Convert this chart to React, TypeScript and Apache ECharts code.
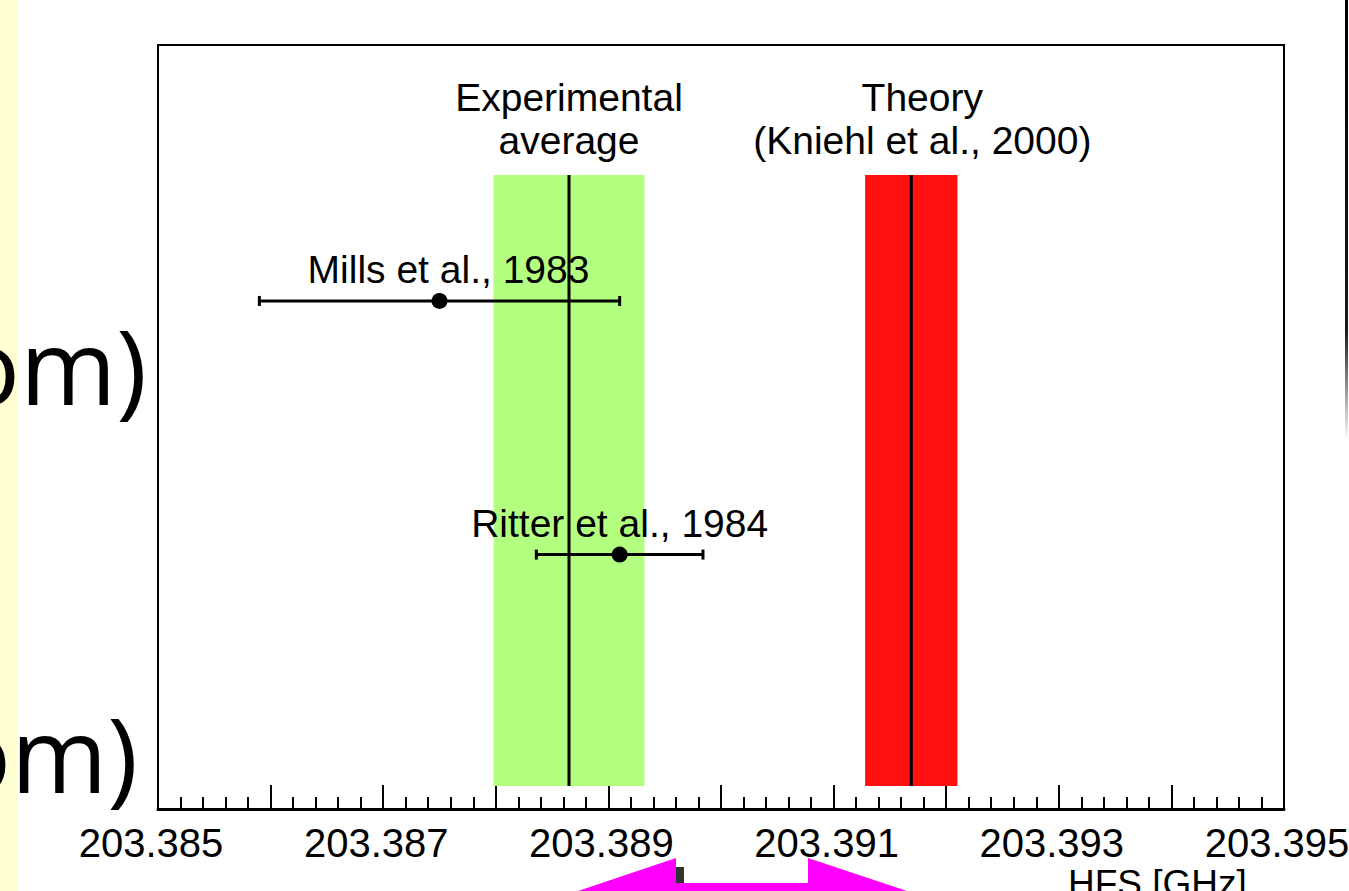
import React, { useEffect, useRef } from "react";
import * as echarts from "echarts";

// ---- data ----
const xMin = 203.385;
const xMax = 203.395;
const xTickLabels = ["203.385", "203.387", "203.389", "203.391", "203.393", "203.395"];
const xAxisTitle = "HFS [GHz]";

// vertical bands (average / theory): centre value and half-width
const bandNames = ["Experimental\naverage", "Theory\n(Kniehl et al., 2000)"];
const bandCenters = [203.38865, 203.39169];
const bandErrors = [0.00067, 0.00041];
const bandYRange = [3, 83];

// individual measurements
const measurementNames = ["Mills et al., 1983", "Ritter et al., 1984"];
const measurementValues = [203.3875, 203.3891];
const measurementErrors = [0.0016, 0.00074];
const measurementRows = [66.5, 33.3];

// ---- styles ----
const bandColors = ["#b3ff80", "#ff1010"];
const bandLabelDx = [0, 11];
const measurementLabelDx = [9, 0];
const labelFont = "'Liberation Sans', Arial, sans-serif";
const tickFont = "'Liberation Sans', Arial, sans-serif";

export default function App() {
  const ref = useRef<HTMLDivElement>(null);

  useEffect(() => {
    if (!ref.current) return;
    const chart = echarts.init(ref.current, null, { renderer: "svg" });

    const bandData = bandCenters.map((c, i) => [c, bandErrors[i], bandYRange[0], bandYRange[1]]);
    const measData = measurementValues.map((v, i) => [v, measurementErrors[i], measurementRows[i]]);

    const option: any = {
      animation: false,
      backgroundColor: "#ffffff",
      grid: {
        left: 158,
        right: 65,
        top: 45,
        bottom: 82,
        containLabel: false,
        outerBoundsMode: "none",
        show: true,
        borderColor: "#000",
        borderWidth: 2,
        backgroundColor: "transparent",
      },
      xAxis: {
        type: "value",
        min: xMin,
        max: xMax,
        interval: 0.001,
        axisLine: { show: true, onZero: false, lineStyle: { color: "#000", width: 3 } },
        axisTick: { show: true, inside: true, length: 24, lineStyle: { color: "#000", width: 2 } },
        minorTick: { show: true, splitNumber: 5, length: 12, lineStyle: { color: "#000", width: 2 } },
        splitLine: { show: false },
        minorSplitLine: { show: false },
        axisLabel: {
          show: true,
          color: "#000",
          fontSize: 40,
          fontFamily: tickFont,
          margin: 14,
          padding: [0, 14, 0, 0],
          showMinLabel: true,
          showMaxLabel: true,
          hideOverlap: false,
          formatter: (v: number) => {
            const s = v.toFixed(3);
            return xTickLabels.indexOf(s) >= 0 ? s : "";
          },
        },
      },
      yAxis: {
        type: "value",
        min: 0,
        max: 100,
        show: false,
        splitLine: { show: false },
      },
      series: [
        {
          type: "custom",
          name: "bands",
          data: bandData,
          z: 2,
          renderItem: (params: any, api: any) => {
            const c = api.value(0);
            const e = api.value(1);
            const y0 = api.value(2);
            const y1 = api.value(3);
            const pl = api.coord([c - e, y0]);
            const pr = api.coord([c + e, y1]);
            const pc = api.coord([c, y0]);
            const i = params.dataIndex;
            return {
              type: "group",
              children: [
                {
                  type: "rect",
                  shape: { x: pl[0], y: pr[1], width: pr[0] - pl[0], height: pl[1] - pr[1] },
                  style: { fill: bandColors[i] },
                },
                {
                  type: "line",
                  shape: { x1: pc[0], y1: pl[1], x2: pc[0], y2: pr[1] },
                  style: { stroke: "#000", lineWidth: 3 },
                },
                {
                  type: "text",
                  x: pc[0] + bandLabelDx[i],
                  y: pr[1] - 13,
                  style: {
                    text: bandNames[i],
                    fill: "#000",
                    font: `39px ${labelFont}`,
                    lineHeight: 43,
                    align: "center",
                    verticalAlign: "bottom",
                  },
                },
              ],
            };
          },
        },
        {
          type: "custom",
          name: "measurements",
          data: measData,
          z: 3,
          renderItem: (params: any, api: any) => {
            const v = api.value(0);
            const e = api.value(1);
            const r = api.value(2);
            const pl = api.coord([v - e, r]);
            const pr = api.coord([v + e, r]);
            const pc = api.coord([v, r]);
            const i = params.dataIndex;
            return {
              type: "group",
              children: [
                {
                  type: "line",
                  shape: { x1: pl[0], y1: pl[1], x2: pr[0], y2: pr[1] },
                  style: { stroke: "#000", lineWidth: 3 },
                },
                {
                  type: "line",
                  shape: { x1: pl[0], y1: pl[1] - 5, x2: pl[0], y2: pl[1] + 5 },
                  style: { stroke: "#000", lineWidth: 3 },
                },
                {
                  type: "line",
                  shape: { x1: pr[0], y1: pr[1] - 5, x2: pr[0], y2: pr[1] + 5 },
                  style: { stroke: "#000", lineWidth: 3 },
                },
                {
                  type: "circle",
                  shape: { cx: pc[0], cy: pc[1], r: 8 },
                  style: { fill: "#000" },
                },
                {
                  type: "text",
                  x: pc[0] + measurementLabelDx[i],
                  y: pc[1] - 12,
                  style: {
                    text: measurementNames[i],
                    fill: "#000",
                    font: `39px ${labelFont}`,
                    align: "center",
                    verticalAlign: "bottom",
                  },
                },
              ],
            };
          },
        },
      ],
      graphic: [
        {
          type: "rect",
          z: -10,
          shape: { x: 0, y: 0, width: 17, height: 891 },
          style: { fill: "#ffffd2" },
        },
        {
          type: "text",
          z: 0,
          x: 147,
          y: 364,
          style: {
            text: "om)",
            fill: "#000",
            font: "104px 'Open Sans', 'DejaVu Sans', sans-serif",
            align: "right",
            verticalAlign: "middle",
          },
        },
        {
          type: "text",
          z: 0,
          x: 138,
          y: 752,
          style: {
            text: "om)",
            fill: "#000",
            font: "104px 'Open Sans', 'DejaVu Sans', sans-serif",
            align: "right",
            verticalAlign: "middle",
          },
        },
        {
          type: "polygon",
          z: 5,
          shape: {
            points: [
              [578, 891],
              [676, 858],
              [676, 883],
              [808, 883],
              [808, 858],
              [907, 891],
            ],
          },
          style: { fill: "#ff00ff" },
        },
        {
          type: "rect",
          z: 6,
          shape: { x: 676, y: 867, width: 8, height: 16 },
          style: { fill: "#333333" },
        },
        {
          type: "text",
          z: 5,
          x: 1068,
          y: 865,
          style: {
            text: xAxisTitle,
            fill: "#000",
            font: `37px ${tickFont}`,
            align: "left",
            verticalAlign: "top",
          },
        },
        {
          type: "rect",
          z: 5,
          shape: { x: 1345, y: 0, width: 3, height: 440 },
          style: {
            fill: new echarts.graphic.LinearGradient(0, 0, 0, 1, [
              { offset: 0, color: "rgba(0,0,0,1)" },
              { offset: 0.75, color: "rgba(0,0,0,0.9)" },
              { offset: 1, color: "rgba(0,0,0,0)" },
            ]),
          },
        },
      ],
    };

    chart.setOption(option);
    return () => {
      chart.dispose();
    };
  }, []);

  return (
    <div
      ref={ref}
      style={{ position: "fixed", left: 0, top: 0, width: 1349, height: 891, background: "#fff" }}
    />
  );
}
